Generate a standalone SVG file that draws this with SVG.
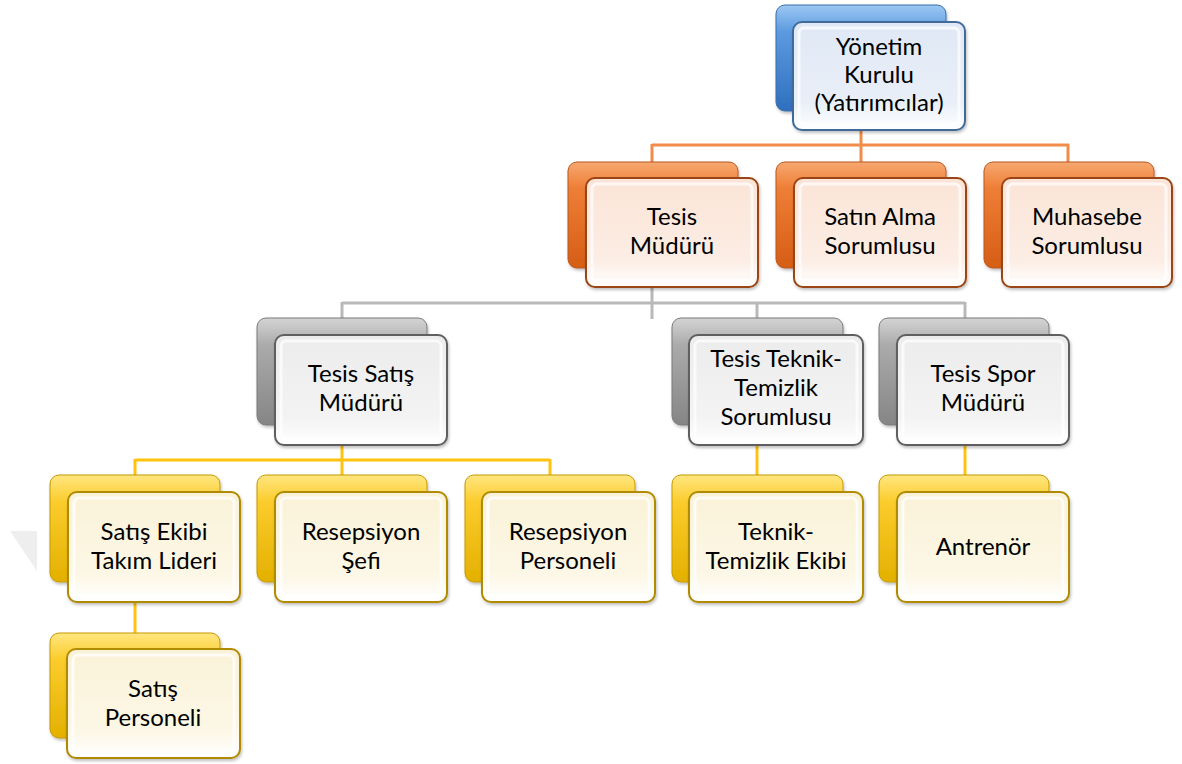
<svg xmlns="http://www.w3.org/2000/svg" width="1182" height="764" viewBox="0 0 1182 764">
<defs>
<linearGradient id="gBlue" x1="0" y1="0" x2="0" y2="1"><stop offset="0" stop-color="#9cc8f2"/><stop offset="0.25" stop-color="#5c9ae0"/><stop offset="1" stop-color="#2f6fbe"/></linearGradient>
<linearGradient id="gOrange" x1="0" y1="0" x2="0" y2="1"><stop offset="0" stop-color="#f7a870"/><stop offset="0.25" stop-color="#ee7e36"/><stop offset="1" stop-color="#d65d16"/></linearGradient>
<linearGradient id="gGray" x1="0" y1="0" x2="0" y2="1"><stop offset="0" stop-color="#d4d4d4"/><stop offset="0.25" stop-color="#ababab"/><stop offset="1" stop-color="#858585"/></linearGradient>
<linearGradient id="gYellow" x1="0" y1="0" x2="0" y2="1"><stop offset="0" stop-color="#ffe680"/><stop offset="0.25" stop-color="#fbcc2c"/><stop offset="1" stop-color="#e3b000"/></linearGradient>
<linearGradient id="fBlue" x1="0" y1="0" x2="0" y2="1"><stop offset="0" stop-color="#dfe8f5"/><stop offset="0.75" stop-color="#e9eff8"/><stop offset="1" stop-color="#ffffff"/></linearGradient>
<linearGradient id="fOrange" x1="0" y1="0" x2="0" y2="1"><stop offset="0" stop-color="#fbe4d7"/><stop offset="0.75" stop-color="#fcede4"/><stop offset="1" stop-color="#ffffff"/></linearGradient>
<linearGradient id="fGray" x1="0" y1="0" x2="0" y2="1"><stop offset="0" stop-color="#ececec"/><stop offset="0.75" stop-color="#f3f3f3"/><stop offset="1" stop-color="#ffffff"/></linearGradient>
<linearGradient id="fYellow" x1="0" y1="0" x2="0" y2="1"><stop offset="0" stop-color="#faf2d8"/><stop offset="0.75" stop-color="#fcf7e6"/><stop offset="1" stop-color="#ffffff"/></linearGradient>
<filter id="sh" x="-10%" y="-10%" width="130%" height="130%"><feDropShadow dx="1" dy="2" stdDeviation="1.5" flood-color="#000" flood-opacity="0.25"/></filter>
</defs>
<style>
.back{stroke-width:1;filter:url(#sh)}
.front{stroke-width:2;filter:url(#sh)}
.bevel{fill:none;stroke:#ffffff;stroke-width:3;stroke-opacity:0.7}
.blue .back{fill:url(#gBlue);stroke:#3b6ea8}
.blue .front{fill:url(#fBlue);stroke:#3f6b98}
.orange .back{fill:url(#gOrange);stroke:#b8581e}
.orange .front{fill:url(#fOrange);stroke:#9a4512}
.gray .back{fill:url(#gGray);stroke:#7a7a7a}
.gray .front{fill:url(#fGray);stroke:#5e5e5e}
.yellow .back{fill:url(#gYellow);stroke:#c49a00}
.yellow .front{fill:url(#fYellow);stroke:#b08a00}
text{font-family:Lato,"Open Sans","Liberation Sans",sans-serif;font-size:24px;fill:#000;text-anchor:middle}
.conn line{stroke-width:3;fill:none}
</style>
<rect width="1182" height="764" fill="#ffffff"/>
<polygon points="10,531 37,531 37,571" fill="#eeeeee"/>
<g id="connectors" class="conn">
<g stroke="#f28c4a">
<line x1="861" y1="128" x2="861" y2="163"/>
<line x1="652" y1="145" x2="1069" y2="145"/>
<line x1="652" y1="144" x2="652" y2="163"/>
<line x1="1068" y1="144" x2="1068" y2="163"/>
</g>
<g stroke="#b9b9b9">
<line x1="652" y1="285" x2="652" y2="319"/>
<line x1="342" y1="303" x2="965" y2="303"/>
<line x1="342" y1="302" x2="342" y2="319"/>
<line x1="757" y1="302" x2="757" y2="319"/>
<line x1="965" y1="302" x2="965" y2="319"/>
</g>
<g stroke="#ffc20e">
<line x1="342" y1="443" x2="342" y2="477"/>
<line x1="135" y1="460" x2="550" y2="460"/>
<line x1="135" y1="459" x2="135" y2="477"/>
<line x1="550" y1="459" x2="550" y2="477"/>
<line x1="757" y1="444" x2="757" y2="477"/>
<line x1="965" y1="444" x2="965" y2="477"/>
<line x1="135" y1="600" x2="135" y2="634"/>
</g>
</g>
<g id="yonetim" class="blue">
<rect class="back" x="776" y="5" width="170" height="106" rx="9"/>
<rect class="front" x="793" y="22" width="172" height="108" rx="9"/>
<rect class="bevel" x="799" y="28" width="160" height="96" rx="5"/>
<text x="879" y="55">Yönetim</text><text x="879" y="83">Kurulu</text><text x="879" y="111">(Yatırımcılar)</text>
</g>
<g id="tesis-muduru" class="orange">
<rect class="back" x="568" y="162" width="170" height="106" rx="9"/>
<rect class="front" x="586" y="178" width="172" height="109" rx="9"/>
<rect class="bevel" x="592" y="184" width="160" height="97" rx="5"/>
<text x="672" y="225">Tesis</text><text x="672" y="254">Müdürü</text>
</g>
<g id="satin-alma" class="orange">
<rect class="back" x="776" y="162" width="170" height="106" rx="9"/>
<rect class="front" x="794" y="178" width="172" height="109" rx="9"/>
<rect class="bevel" x="800" y="184" width="160" height="97" rx="5"/>
<text x="880" y="225">Satın Alma</text><text x="880" y="254">Sorumlusu</text>
</g>
<g id="muhasebe" class="orange">
<rect class="back" x="984" y="162" width="170" height="106" rx="9"/>
<rect class="front" x="1002" y="178" width="170" height="109" rx="9"/>
<rect class="bevel" x="1008" y="184" width="158" height="97" rx="5"/>
<text x="1087" y="225">Muhasebe</text><text x="1087" y="254">Sorumlusu</text>
</g>
<g id="tesis-satis" class="gray">
<rect class="back" x="257" y="318" width="170" height="107" rx="9"/>
<rect class="front" x="275" y="335" width="172" height="110" rx="9"/>
<rect class="bevel" x="281" y="341" width="160" height="98" rx="5"/>
<text x="361" y="382">Tesis Satış</text><text x="361" y="411">Müdürü</text>
</g>
<g id="tesis-teknik" class="gray">
<rect class="back" x="672" y="318" width="171" height="107" rx="9"/>
<rect class="front" x="689" y="335" width="174" height="110" rx="9"/>
<rect class="bevel" x="695" y="341" width="162" height="98" rx="5"/>
<text x="776" y="367">Tesis Teknik-</text><text x="776" y="396">Temizlik</text><text x="776" y="425">Sorumlusu</text>
</g>
<g id="tesis-spor" class="gray">
<rect class="back" x="879" y="318" width="170" height="107" rx="9"/>
<rect class="front" x="897" y="335" width="172" height="110" rx="9"/>
<rect class="bevel" x="903" y="341" width="160" height="98" rx="5"/>
<text x="983" y="382">Tesis Spor</text><text x="983" y="411">Müdürü</text>
</g>
<g id="satis-ekibi" class="yellow">
<rect class="back" x="50" y="475" width="170" height="107" rx="9"/>
<rect class="front" x="68" y="492" width="172" height="110" rx="9"/>
<rect class="bevel" x="74" y="498" width="160" height="98" rx="5"/>
<text x="154" y="540">Satış Ekibi</text><text x="154" y="569">Takım Lideri</text>
</g>
<g id="resepsiyon-sefi" class="yellow">
<rect class="back" x="257" y="475" width="170" height="107" rx="9"/>
<rect class="front" x="275" y="492" width="172" height="110" rx="9"/>
<rect class="bevel" x="281" y="498" width="160" height="98" rx="5"/>
<text x="361" y="540">Resepsiyon</text><text x="361" y="569">Şefi</text>
</g>
<g id="resepsiyon-personeli" class="yellow">
<rect class="back" x="465" y="475" width="170" height="107" rx="9"/>
<rect class="front" x="482" y="492" width="173" height="110" rx="9"/>
<rect class="bevel" x="488" y="498" width="161" height="98" rx="5"/>
<text x="568" y="540">Resepsiyon</text><text x="568" y="569">Personeli</text>
</g>
<g id="teknik-ekibi" class="yellow">
<rect class="back" x="672" y="475" width="171" height="107" rx="9"/>
<rect class="front" x="689" y="492" width="174" height="110" rx="9"/>
<rect class="bevel" x="695" y="498" width="162" height="98" rx="5"/>
<text x="776" y="540">Teknik-</text><text x="776" y="569">Temizlik Ekibi</text>
</g>
<g id="antrenor" class="yellow">
<rect class="back" x="879" y="475" width="170" height="107" rx="9"/>
<rect class="front" x="897" y="492" width="172" height="110" rx="9"/>
<rect class="bevel" x="903" y="498" width="160" height="98" rx="5"/>
<text x="983" y="555">Antrenör</text>
</g>
<g id="satis-personeli" class="yellow">
<rect class="back" x="50" y="633" width="170" height="105" rx="9"/>
<rect class="front" x="67" y="649" width="173" height="109" rx="9"/>
<rect class="bevel" x="73" y="655" width="161" height="97" rx="5"/>
<text x="153" y="697">Satış</text><text x="153" y="726">Personeli</text>
</g>
</svg>
